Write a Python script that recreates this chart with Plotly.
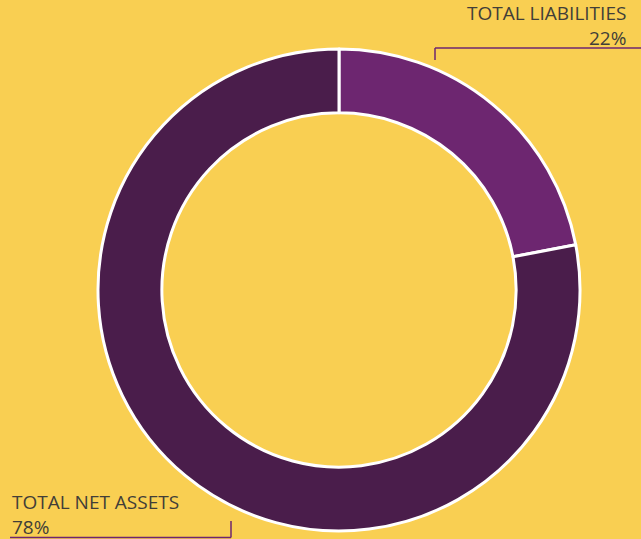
import plotly.graph_objects as go

labels = ["TOTAL LIABILITIES", "TOTAL NET ASSETS"]
values = [22, 78]
colors = ["#6D2670", "#4A1D4B"]

W, H = 641, 539
def px(x):
    return x / W
def py(y):
    return 1 - y / H

fig = go.Figure(go.Pie(
    labels=labels, values=values, sort=False, direction="clockwise", rotation=0,
    hole=0.735, marker=dict(colors=colors, line=dict(color="white", width=3)),
    textinfo="none", hoverinfo="label+percent",
    domain=dict(x=[px(98), px(580)], y=[py(531), py(49)]),
))

font = dict(family="Open Sans, Lato, sans-serif", size=19, color="#423E38")
annotations = [
    dict(x=px(627), y=py(25.5), xref="paper", yref="paper", xanchor="right", yanchor="middle",
         text=f"{labels[0]}<br>{values[0]}%", showarrow=False, font=font, align="right",
         borderpad=0),
    dict(x=px(11), y=py(514.5), xref="paper", yref="paper", xanchor="left", yanchor="middle",
         text=f"{labels[1]}<br>{values[1]}%", showarrow=False, font=font, align="left",
         borderpad=0),
]
lc = "#6D2670"
shapes = [
    dict(type="line", xref="paper", yref="paper", x0=px(435), x1=px(641), y0=py(48), y1=py(48), line=dict(color=lc, width=1.5)),
    dict(type="line", xref="paper", yref="paper", x0=px(435), x1=px(435), y0=py(48), y1=py(60), line=dict(color=lc, width=1.5)),
    dict(type="line", xref="paper", yref="paper", x0=px(10), x1=px(231), y0=py(537.5), y1=py(537.5), line=dict(color=lc, width=1.5)),
    dict(type="line", xref="paper", yref="paper", x0=px(231), x1=px(231), y0=py(537.5), y1=py(521), line=dict(color=lc, width=1.5)),
]

fig.update_layout(
    width=W, height=H, margin=dict(l=0, r=0, t=0, b=0),
    paper_bgcolor="#F9CF52", plot_bgcolor="#F9CF52",
    showlegend=False, annotations=annotations, shapes=shapes,
)
fig.write_html("out.html", config={"displayModeBar": False},
               post_script="document.body.style.margin='0';document.body.style.background='#F9CF52';")
